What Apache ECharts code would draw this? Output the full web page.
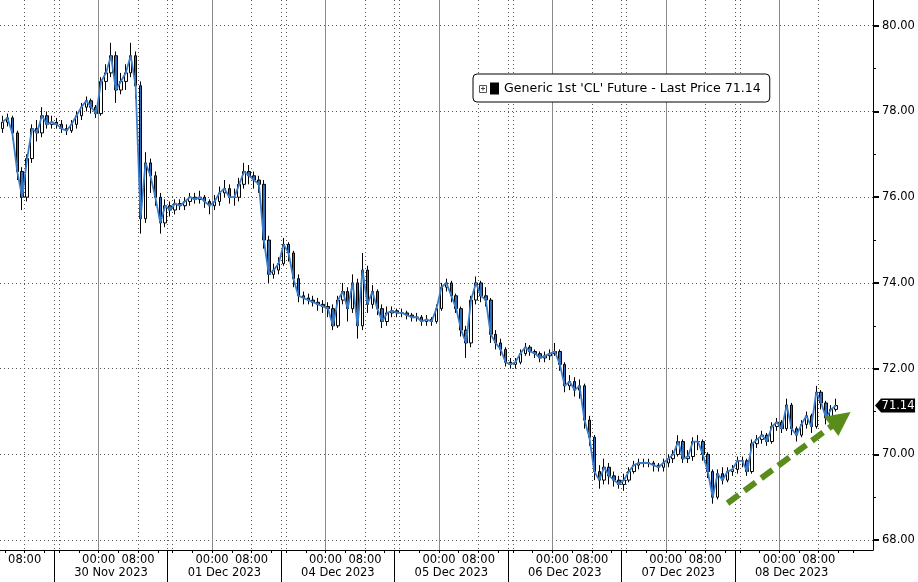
<!DOCTYPE html>
<html><head><meta charset="utf-8">
<script src="https://cdn.jsdelivr.net/npm/echarts@6/dist/echarts.min.js"></script>
<style>html,body{margin:0;padding:0;background:#fff}#c{width:918px;height:582px}</style>
</head><body><div id="c"></div>
<script>
const seriesName = "Generic 1st 'CL' Future - Last Price 71.14";
const lastPrice = 71.14;

// hourly bars, slot 0 = 29 Nov 03:00 ... slot 169 = 08 Dec 11:00
const openP = [77.6,77.75,77.85,77.5,76.6,76.0,76.9,77.6,77.5,77.9,
 77.7,77.75,77.7,77.6,77.55,77.7,77.9,78.1,78.25,78.1,
 77.95,78.7,78.9,79.3,78.5,78.7,78.9,79.3,78.6,75.5,
 76.8,76.5,76.0,75.4,75.8,75.7,75.85,75.8,75.9,76.0,
 75.95,76.0,75.9,75.8,75.9,76.1,76.2,76.0,76.0,76.3,
 76.6,76.5,76.4,76.3,75.0,74.2,74.3,74.45,74.9,74.7,
 74.1,73.7,73.65,73.6,73.55,73.5,73.45,73.4,73.0,73.6,
 73.8,73.4,74.0,73.0,74.3,73.5,73.8,73.4,73.1,73.3,
 73.35,73.3,73.3,73.25,73.2,73.2,73.1,73.15,73.1,73.4,
 73.9,74.0,73.7,73.4,72.9,72.6,73.6,74.0,73.7,73.6,
 72.8,72.6,72.45,72.15,72.1,72.15,72.35,72.5,72.4,72.35,
 72.25,72.3,72.35,72.4,72.1,71.6,71.7,71.5,71.6,70.8,
 70.4,69.6,69.4,69.7,69.5,69.4,69.3,69.4,69.6,69.75,
 69.8,69.8,69.8,69.75,69.7,69.8,69.9,70.0,70.3,69.9,
 69.95,70.3,70.3,70.0,69.6,69.0,69.55,69.4,69.6,69.65,
 69.85,69.85,69.6,70.25,70.35,70.45,70.3,70.65,70.75,70.6,
 71.15,70.6,70.45,70.7,70.9,70.65,71.45,71.2,70.85,71.05];
const closeP = [77.75,77.85,77.5,76.6,76.0,76.9,77.6,77.5,77.9,77.7,
 77.75,77.7,77.6,77.55,77.7,77.9,78.1,78.25,78.1,77.95,
 78.7,78.9,79.3,78.5,78.7,78.9,79.3,78.6,75.5,76.8,
 76.5,76.0,75.4,75.8,75.7,75.85,75.8,75.9,76.0,75.95,
 76.0,75.9,75.8,75.9,76.1,76.2,76.0,76.0,76.3,76.6,
 76.5,76.4,76.3,75.0,74.2,74.3,74.45,74.9,74.7,74.1,
 73.7,73.65,73.6,73.55,73.5,73.45,73.4,73.0,73.6,73.8,
 73.4,74.0,73.0,74.3,73.5,73.8,73.4,73.1,73.3,73.35,
 73.3,73.3,73.25,73.2,73.2,73.1,73.15,73.1,73.4,73.9,
 74.0,73.7,73.4,72.9,72.6,73.6,74.0,73.7,73.6,72.8,
 72.6,72.45,72.15,72.1,72.15,72.35,72.5,72.4,72.35,72.25,
 72.3,72.35,72.4,72.1,71.6,71.7,71.5,71.6,70.8,70.4,
 69.6,69.4,69.7,69.5,69.4,69.3,69.4,69.6,69.75,69.8,
 69.8,69.8,69.75,69.7,69.8,69.9,70.0,70.3,69.9,69.95,
 70.3,70.3,70.0,69.6,69.0,69.55,69.4,69.6,69.65,69.85,
 69.85,69.6,70.25,70.35,70.45,70.3,70.65,70.75,70.6,71.15,
 70.6,70.45,70.7,70.9,70.65,71.45,71.2,70.85,71.05,71.14];
const highP = [77.9,77.95,77.9,77.55,76.7,77.0,77.7,77.8,78.1,78.0,
 77.9,77.85,77.8,77.7,77.8,78.0,78.2,78.35,78.3,78.15,
 78.8,79.1,79.6,79.4,78.9,79.1,79.6,79.4,78.7,77.05,
 76.9,76.6,76.1,75.95,75.9,75.95,75.95,76.0,76.1,76.1,
 76.15,76.05,75.95,76.05,76.25,76.4,76.3,76.2,76.45,76.8,
 76.75,76.6,76.5,76.4,75.1,74.45,74.6,75.05,74.95,74.75,
 74.2,73.8,73.75,73.7,73.65,73.6,73.55,73.5,73.7,74.0,
 73.9,74.2,74.1,74.7,74.4,73.95,73.85,73.5,73.45,73.45,
 73.4,73.4,73.35,73.3,73.3,73.25,73.25,73.2,73.5,74.0,
 74.1,74.05,73.75,73.45,73.0,73.7,74.15,74.05,73.9,73.65,
 72.9,72.7,72.5,72.25,72.25,72.45,72.6,72.55,72.45,72.4,
 72.4,72.45,72.6,72.45,72.15,71.85,71.8,71.75,71.65,70.9,
 70.45,69.75,69.9,69.8,69.6,69.5,69.55,69.7,69.85,69.9,
 69.9,69.9,69.85,69.8,69.9,70.0,70.1,70.45,70.35,70.1,
 70.4,70.45,70.35,70.05,69.65,69.65,69.7,69.7,69.75,69.95,
 69.95,69.9,70.35,70.45,70.55,70.5,70.75,70.85,70.8,71.3,
 71.2,70.65,70.8,71.0,70.95,71.6,71.5,71.25,71.15,71.3];
const lowP = [77.5,77.65,77.35,76.4,75.7,75.9,76.8,77.3,77.4,77.6,
 77.6,77.6,77.5,77.45,77.5,77.6,77.8,78.0,77.95,77.85,
 77.9,78.5,78.8,78.2,78.4,78.5,78.8,78.3,75.15,75.4,
 76.1,75.8,75.15,75.3,75.55,75.6,75.7,75.7,75.8,75.85,
 75.85,75.75,75.6,75.7,75.8,76.0,75.85,75.8,75.9,76.2,
 76.3,76.2,76.1,74.8,74.0,74.1,74.2,74.4,74.5,73.9,
 73.55,73.5,73.5,73.45,73.35,73.3,73.2,72.9,72.95,73.5,
 73.1,73.3,72.7,72.9,73.3,73.4,73.25,72.95,73.0,73.2,
 73.2,73.2,73.15,73.1,73.1,73.0,73.0,73.0,73.05,73.35,
 73.8,73.55,73.3,72.75,72.25,72.5,73.5,73.55,73.45,72.6,
 72.45,72.3,72.05,72.0,72.0,72.1,72.3,72.3,72.25,72.15,
 72.15,72.2,72.3,71.95,71.45,71.5,71.35,71.3,70.6,70.2,
 69.4,69.2,69.3,69.3,69.25,69.2,69.15,69.35,69.55,69.65,
 69.7,69.7,69.6,69.6,69.6,69.7,69.8,69.95,69.8,69.8,
 69.85,70.1,69.85,69.45,68.85,68.95,69.3,69.35,69.5,69.55,
 69.7,69.5,69.55,70.15,70.25,70.2,70.25,70.55,70.5,70.55,
 70.45,70.3,70.4,70.6,70.5,70.6,71.05,70.7,70.75,71.0];

const slotCount = 177;
const sessionDates = ['30 Nov 2023','01 Dec 2023','04 Dec 2023','05 Dec 2023','06 Dec 2023','07 Dec 2023','08 Dec 2023'];
const sessionStart = [11,34,57,80,103,126,149];
const timeLabelSlots = [5,20,28,43,51,66,74,89,97,112,120,135,143,158,166];
const timeLabels = ['08:00','00:00','08:00','00:00','08:00','00:00','08:00','00:00','08:00','00:00','08:00','00:00','08:00','00:00','08:00'];
const midnightSlots = [20,43,66,89,112,135,158];
const dottedSlots = [5,11,12,28,34,35,51,57,58,74,80,81,97,103,104,120,126,127,143,149,150,166];
const fourHourSlots = [1,5,9,12,16,20,24,28,32,35,39,43,47,51,55,58,62,66,70,74,78,81,85,89,93,97,101,104,108,112,116,120,124,127,131,135,139,143,147,150,154,158,162,166,170,173];
const yTicks = [68,70,72,74,76,78,80];
const yMinorTicks = [69,71,73,75,77,79];
const arrowStart = [147, 68.86];
const arrowEnd = [170, 70.82];

const FONT = 'DejaVu Sans';
const slotCats = []; for (let i = 0; i < slotCount; i++) slotCats.push('s' + i);
const boundCats = []; for (let i = 0; i <= slotCount; i++) boundCats.push('b' + i);
const dateAt = {}; sessionStart.forEach((s, k) => { dateAt[s + 11] = sessionDates[k]; });
const timeAt = {}; timeLabelSlots.forEach((s, k) => { timeAt[s] = timeLabels[k]; });

const chart = echarts.init(document.getElementById('c'), null, {renderer: 'canvas'});
const yMin = 67.77, yMax = 80.6;
chart.setOption({
  animation: false,
  backgroundColor: '#fff',
  grid: {left: 0, right: 45, top: 0, bottom: 32},
  legend: {
    data: [{name: seriesName, icon: 'rect', itemStyle: {color: '#000', borderWidth: 0}}],
    left: 473, top: 74, itemWidth: 9, itemHeight: 12, itemGap: 0, padding: [8, 9, 7, 17],
    backgroundColor: '#fff', borderColor: '#000', borderWidth: 1, borderRadius: 4,
    selectedMode: false, z: 5,
    textStyle: {fontFamily: FONT, fontSize: 12.6, color: '#000'}
  },
  graphic: [
    {type: 'rect', left: 479, top: 85, z: 200, zlevel: 0, shape: {x: 0, y: 0, width: 7, height: 7}, style: {fill: '#fff', stroke: '#555', lineWidth: 1}},
    {type: 'rect', left: 481, top: 88, z: 201, shape: {x: 0, y: 0, width: 4, height: 1}, style: {fill: '#444'}},
    {type: 'rect', left: 482.5, top: 86.5, z: 201, shape: {x: 0, y: 0, width: 1, height: 4}, style: {fill: '#444'}}
  ],
  xAxis: [
    { // slots for data, date labels
      type: 'category', data: slotCats, boundaryGap: true, position: 'bottom',
      axisLine: {show: true, lineStyle: {color: '#000', width: 1}},
      axisTick: {show: false},
      splitLine: {show: false},
      axisLabel: {
        interval: (i) => dateAt[i] !== undefined,
        formatter: (v, i) => dateAt[i] || '',
        margin: 17, fontFamily: FONT, fontSize: 11.5, color: '#000'
      }
    },
    { // boundaries: time labels, 4h ticks, midnight lines
      type: 'category', data: boundCats, boundaryGap: false, position: 'bottom',
      axisLine: {show: false},
      axisTick: {show: true, interval: (i) => fourHourSlots.includes(i), length: 3, lineStyle: {color: '#000'}},
      splitLine: {show: true, interval: (i) => midnightSlots.includes(i), lineStyle: {color: '#8a8a8a', width: 1}},
      axisLabel: {
        interval: (i) => timeAt[i] !== undefined,
        formatter: (v, i) => timeAt[i] || '',
        margin: 4, fontFamily: FONT, fontSize: 11.5, color: '#000'
      }
    },
    { // session separators + dotted vertical grid
      type: 'category', data: boundCats, boundaryGap: false, position: 'bottom',
      axisLine: {show: false},
      axisTick: {show: true, interval: (i) => sessionStart.includes(i), length: 32, lineStyle: {color: '#000'}},
      splitLine: {show: true, interval: (i) => dottedSlots.includes(i), lineStyle: {color: '#555', width: 1, type: [1, 3]}},
      axisLabel: {show: false}
    }
  ],
  yAxis: [
    {
      type: 'value', position: 'right', min: yMin, max: yMax, splitNumber: 6,
      axisLine: {show: true, lineStyle: {color: '#000'}},
      axisTick: {show: true, customValues: yTicks, length: 6, lineStyle: {color: '#000', width: 2}},
      axisLabel: {customValues: yTicks, formatter: (v) => v.toFixed(2), margin: 9, fontFamily: FONT, fontSize: 11.5, color: '#000'},
      splitLine: {show: true, lineStyle: {color: '#555', width: 1, type: [1, 3]}}
    },
    {
      type: 'value', position: 'right', min: yMin, max: yMax,
      axisLine: {show: false},
      axisTick: {show: true, customValues: yMinorTicks, length: 3, lineStyle: {color: '#000'}},
      axisLabel: {show: false},
      splitLine: {show: false}
    }
  ],
  series: [
    {
      type: 'candlestick', name: seriesName, xAxisIndex: 0, yAxisIndex: 0,
      data: openP.map((o, i) => [o, closeP[i], lowP[i], highP[i]]),
      barWidth: 3,
      itemStyle: {color: '#fff', color0: '#2f6fc0', borderColor: '#000', borderColor0: '#000', borderWidth: 1},
      z: 3
    },
    {
      type: 'line', name: 'close', xAxisIndex: 0, yAxisIndex: 0,
      data: closeP, symbol: 'none', silent: true,
      lineStyle: {color: '#3a7cc8', width: 1.8},
      z: 4,
      markLine: {
        silent: true, animation: false,
        symbol: ['none', 'triangle'], symbolSize: [24, 24],
        label: {show: false},
        lineStyle: {color: '#5a8c1c', width: 6, type: [14, 7]},
        data: [[{coord: arrowStart}, {coord: arrowEnd}]]
      },
      markPoint: {
        silent: true, animation: false,
        symbol: 'path://M0,7L6,0L40,0L40,14L6,14Z', symbolSize: [40, 14], symbolKeepAspect: false,
        symbolOffset: [24.5, 0],
        itemStyle: {color: '#000'},
        label: {show: true, position: 'inside', offset: [3, 0], color: '#fff', fontFamily: FONT, fontSize: 11.5,
                formatter: () => lastPrice.toFixed(2)},
        data: [{coord: [176, lastPrice], value: lastPrice}]
      }
    }
  ]
});
</script></body></html>
